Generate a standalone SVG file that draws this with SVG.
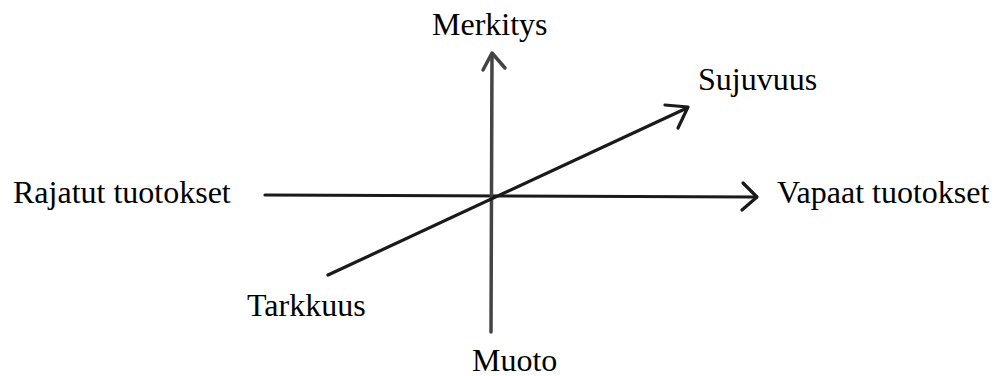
<svg xmlns="http://www.w3.org/2000/svg" width="1007" height="376" viewBox="0 0 1007 376">
<style>
  .lbl { font-family: "Liberation Serif", "Times New Roman", serif; font-size: 32px; fill: #000; }
  .ax { stroke: #1a1a1a; stroke-width: 3.2; fill: none; stroke-linecap: round; stroke-linejoin: round; }
  .vax { stroke: #444; stroke-width: 3.5; fill: none; stroke-linecap: round; stroke-linejoin: round; }
</style>
<rect width="1007" height="376" fill="#fff"/>
<g id="connectors">
  <path class="ax" d="M265 195 L756 197"/>
  <path class="ax" d="M743 183 L757 197 L742 210"/>
  <path class="vax" d="M491 332 L492 54"/>
  <path class="vax" d="M483 70 L492 53 L505 68"/>
  <path class="ax" d="M328 275 L687 108"/>
  <path class="ax" d="M665 105 L688 107 L678 128"/>
</g>
<g id="node-merkitys"><text class="lbl" x="432" y="35">Merkitys</text></g>
<g id="node-sujuvuus"><text class="lbl" x="698" y="90">Sujuvuus</text></g>
<g id="node-vapaat"><text class="lbl" x="777" y="203">Vapaat tuotokset</text></g>
<g id="node-rajatut"><text class="lbl" x="13" y="203">Rajatut tuotokset</text></g>
<g id="node-tarkkuus"><text class="lbl" x="247" y="316">Tarkkuus</text></g>
<g id="node-muoto"><text class="lbl" x="472" y="371">Muoto</text></g>
</svg>
